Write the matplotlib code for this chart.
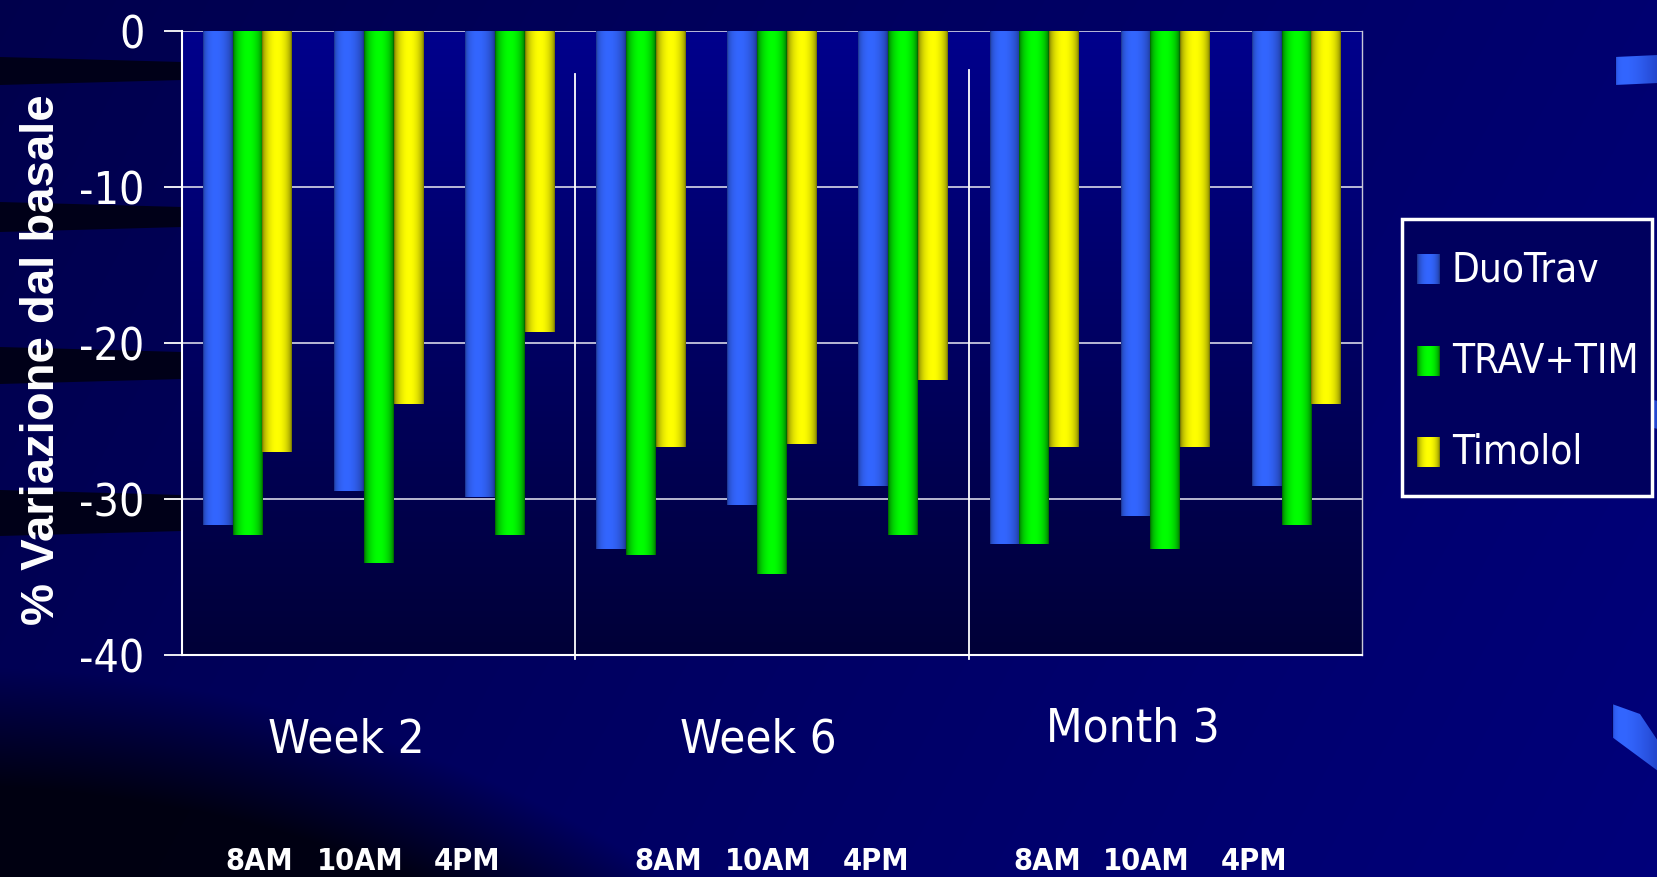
import numpy as np
import matplotlib.pyplot as plt
from matplotlib.patches import Rectangle, Polygon
from matplotlib.colors import to_rgb
from matplotlib import font_manager as fm

# data (% change from baseline)
series = ['DuoTrav', 'TRAV+TIM', 'Timolol']
groups = ['Week 2', 'Week 6', 'Month 3']
times = ['8AM', '10AM', '4PM']
duotrav = [-31.7, -29.5, -29.9, -33.2, -30.4, -29.2, -32.9, -31.1, -29.2]
trav_tim = [-32.3, -34.1, -32.3, -33.6, -34.8, -32.3, -32.9, -33.2, -31.7]
timolol = [-27.0, -23.9, -19.3, -26.7, -26.5, -22.4, -26.7, -26.7, -23.9]
yticks = [0, -10, -20, -30, -40]

bright = ['#3366ff', '#00ff00', '#ffff00']
dark = ['#1a3080', '#005a00', '#6a6a00']

plt.rcParams['font.family'] = ['Liberation Sans', 'DejaVu Sans']


def find_narrow(bold=False):
    for f in fm.fontManager.ttflist:
        key = (f.name + ' ' + f.fname).lower()
        if ('narrow' in key or 'condensed' in key) and f.style == 'normal':
            isbold = f.weight in ('bold', 700, 'heavy', 800) or 'bold' in f.fname.lower()
            if isbold == bold:
                return fm.FontProperties(fname=f.fname)
    return None


nar = find_narrow(False)
nar_b = find_narrow(True)
found = nar is not None
if nar is None:
    nar = fm.FontProperties(family='Liberation Sans')
if nar_b is None:
    nar_b = fm.FontProperties(family='Liberation Sans', weight='bold')

W, H = 1658, 878


def shade(c_dark, c_bright, n=64, skew=1.0):
    t = np.linspace(0, 1, n) ** skew
    f = np.sin(np.pi * t) ** 0.5
    d = np.array(to_rgb(c_dark))
    b = np.array(to_rgb(c_bright))
    return (d + (b - d) * f[:, None])[None, :, :]


def fp(base, size):
    p = base.copy()
    p.set_size(size)
    return p


fig = plt.figure(figsize=(W / 100, H / 100), dpi=100)

# slide background
bg = fig.add_axes([0, 0, 1, 1])
bg.axis('off')
yy, xx = np.mgrid[0:H, 0:W]
base = 0.30 + 0.14 * (xx / W) + 0.04 * (yy / H)
r = np.hypot(xx + 50, yy - 2000)
inner = np.clip((1333 - r) / 120, 0, 1)
blue = base * (1 - 0.8 * inner)
img = np.dstack([np.zeros_like(blue), np.zeros_like(blue), blue])
bg.imshow(img, extent=[0, W, H, 0], aspect='auto', zorder=0)
for y0, y1 in [(58, 86), (203, 233), (348, 385), (491, 537)]:
    bg.add_patch(Polygon([(0, y0), (182, y0 + 5), (182, y1 - 5), (0, y1)],
                         closed=True, color='#000018', lw=0, zorder=1))
for pts in [[(1615, 58), (1658, 56), (1658, 84), (1615, 86)],
            [(1613, 392), (1658, 402), (1658, 430), (1613, 420)],
            [(1612, 705), (1640, 715), (1658, 742), (1658, 772), (1612, 738)]]:
    poly = Polygon(pts, closed=True, facecolor='none', edgecolor='none')
    bg.add_patch(poly)
    xs = [p[0] for p in pts]
    ys = [p[1] for p in pts]
    g = bg.imshow(shade('#000060', '#3366ff', skew=0.35)[:, :40],
                  extent=[min(xs), max(xs), max(ys), min(ys)], aspect='auto', zorder=2)
    g.set_clip_path(poly)
# legend box
bg.add_patch(Rectangle((1402, 220), 250, 277, facecolor='#00005e',
                       edgecolor='white', lw=2.5, zorder=3))
bg.set_xlim(0, W)
bg.set_ylim(H, 0)

# chart
ax = fig.add_axes([182 / W, 1 - 656 / H, (1362 - 182) / W, (656 - 31.7) / H])
ax.imshow(np.dstack([np.zeros((100, 1)), np.zeros((100, 1)),
                     np.linspace(0.55, 0.22, 100)[:, None]]),
          extent=[-0.5, 8.5, -40, 0], aspect='auto', zorder=0)

for t in yticks:
    ax.axhline(t, color='#d8d8e8', lw=1.2, zorder=1)

x = np.arange(len(duotrav))
w = 0.227
for k, vals in enumerate([duotrav, trav_tim, timolol]):
    bars = ax.bar(x + (k - 1) * w, vals, width=w, color='none', edgecolor='none', zorder=3)
    grad = shade(dark[k], bright[k], skew=0.8 if k == 0 else 1.0)
    for b in bars:
        y0, y1 = sorted([b.get_y(), b.get_y() + b.get_height()])
        ax.imshow(grad, extent=[b.get_x(), b.get_x() + b.get_width(), y0, y1],
                  aspect='auto', zorder=3, interpolation='bilinear')

# group dividers
for xd, ytop in [(2.5, -2.8), (5.5, -2.5)]:
    ax.plot([xd, xd], [-40.25, ytop], color='white', lw=1.3, zorder=4, clip_on=False)

ax.set_xlim(-0.5, 8.5)
ax.set_ylim(-40, 0)
ax.set_xticks([])
ax.set_yticks(yticks)
ax.set_yticklabels([str(t) for t in yticks],
                   fontproperties=fp(nar, 32 if found else 29))
ax.tick_params(axis='y', colors='white', length=13, width=1.3, pad=14)
for s in ['left', 'bottom']:
    ax.spines[s].set_color('white')
    ax.spines[s].set_linewidth(1.5)
ax.spines['right'].set_color('#c8c8d8')
ax.spines['right'].set_linewidth(1.0)
ax.spines['top'].set_visible(False)

fig.text(42 / W, 1 - 360 / H, '% Variazione dal basale', rotation=90, color='white',
         fontsize=34, fontweight='bold', ha='center', va='center')

# group and time labels
for name, (gx, gy) in zip(groups, [(346, 740), (758, 740), (1133, 729)]):
    fig.text(gx / W, 1 - gy / H, name, color='white',
             fontproperties=fp(nar, 34 if found else 30), ha='center', va='center')
time_x = [259, 360, 467, 668, 768, 876, 1047, 1146, 1254]
for i, tx in enumerate(time_x):
    fig.text(tx / W, 1 - 862 / H, times[i % 3], color='white',
             fontproperties=fp(nar_b, 22 if found else 20), ha='center', va='center')

# legend entries
for k, (name, cy) in enumerate(zip(series, [270, 362, 453])):
    lax = fig.add_axes([1417 / W, 1 - (cy + 15) / H, 23 / W, 30 / H], zorder=5)
    lax.imshow(shade(dark[k], bright[k]), extent=[0, 1, 0, 1], aspect='auto')
    lax.axis('off')
    fig.text(1452 / W, 1 - cy / H, name, color='white',
             fontproperties=fp(nar, 29 if found else 26),
             ha='left', va='center', zorder=6)

fig.savefig('out.png', dpi=100)
